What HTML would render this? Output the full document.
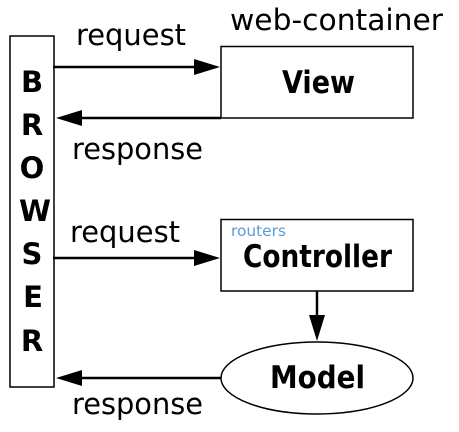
<!DOCTYPE html>
<html><head><meta charset="utf-8"><style>html,body{margin:0;padding:0;background:#fff}svg{display:block}</style></head>
<body>
<svg width="459" height="432" viewBox="0 0 459 432" xmlns="http://www.w3.org/2000/svg" font-family="DejaVu Sans, sans-serif">
<rect x="10" y="36" width="44" height="351" fill="#fff" stroke="#000" stroke-width="1.5"/>
<rect x="221" y="46.5" width="192" height="71.5" fill="#fff" stroke="#000" stroke-width="1.5"/>
<rect x="221" y="219.5" width="192" height="71.5" fill="#fff" stroke="#000" stroke-width="1.5"/>
<ellipse cx="317" cy="378" rx="96" ry="36" fill="#fff" stroke="#000" stroke-width="1.5"/>
<g stroke="#000" stroke-width="2.5">
<line x1="53" y1="67" x2="200" y2="67"/>
<line x1="221" y1="118" x2="76" y2="118"/>
<line x1="53" y1="258" x2="200" y2="258"/>
<line x1="221" y1="378" x2="76" y2="378"/>
<line x1="317" y1="291" x2="317" y2="320"/>
</g>
<g fill="#000">
<polygon points="194,59 220,67 194,75"/>
<polygon points="82,110 56,118 82,126"/>
<polygon points="194,250 220,258 194,266"/>
<polygon points="82,370 56,378 82,386"/>
<polygon points="309,315 317,341 325,315"/>
</g>
<g font-size="29" fill="#000">
<text x="76" y="45" textLength="110" lengthAdjust="spacingAndGlyphs">request</text>
<text x="230" y="30" textLength="213" lengthAdjust="spacingAndGlyphs">web-container</text>
<text x="72" y="159" textLength="131" lengthAdjust="spacingAndGlyphs">response</text>
<text x="70" y="242" textLength="110" lengthAdjust="spacingAndGlyphs">request</text>
<text x="72" y="414" textLength="131" lengthAdjust="spacingAndGlyphs">response</text>
</g>
<g font-size="29" font-weight="bold" fill="#000" text-anchor="middle">
<text x="32" y="92">B</text>
<text x="32" y="135">R</text>
<text x="32" y="178">O</text>
<text x="35" y="221">W</text>
<text x="32" y="264">S</text>
<text x="33" y="307">E</text>
<text x="32" y="351">R</text>
</g>
<g font-size="31" font-weight="bold" fill="#000">
<text x="282" y="93" textLength="73" lengthAdjust="spacingAndGlyphs">View</text>
<text x="243" y="267" textLength="149" lengthAdjust="spacingAndGlyphs">Controller</text>
<text x="270" y="388" textLength="95" lengthAdjust="spacingAndGlyphs">Model</text>
</g>
<text x="231" y="236" font-size="15" fill="#5b9bd5" textLength="55" lengthAdjust="spacingAndGlyphs">routers</text>
</svg>
</body></html>
